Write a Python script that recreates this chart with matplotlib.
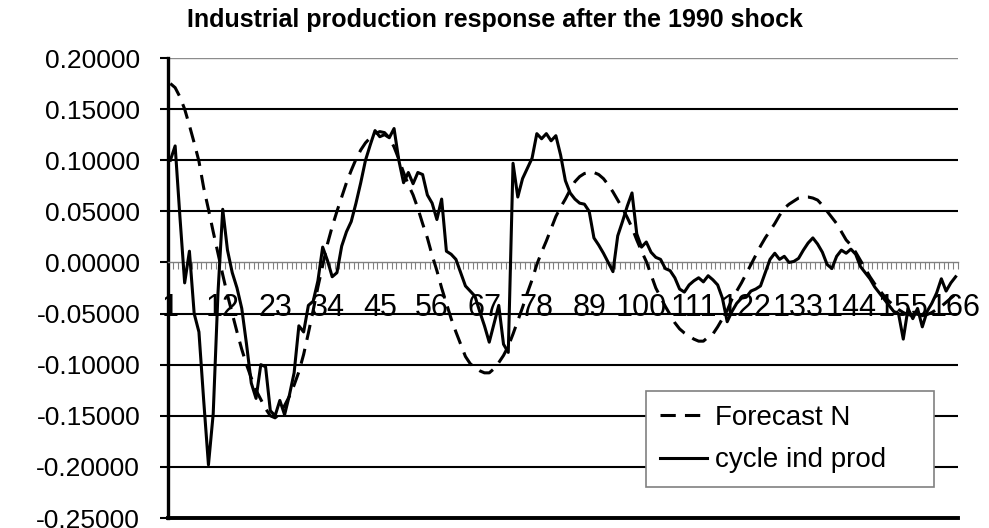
import matplotlib
matplotlib.use('Agg')
import matplotlib.pyplot as plt
import matplotlib.ticker as mticker
import numpy as np

# months after the shock (category axis, Excel style)
period = list(range(1, 167))

forecast_n = [
    0.175, 0.171, 0.162, 0.150, 0.134, 0.117, 0.099, 0.073, 0.052, 0.030,
    0.009, -0.012, -0.032, -0.050, -0.068, -0.085, -0.100, -0.113, -0.125, -0.134,
    -0.143, -0.150, -0.152, -0.148, -0.140, -0.131, -0.120, -0.107, -0.090, -0.069,
    -0.047, -0.024, -0.003, 0.018, 0.035, 0.050, 0.064, 0.078, 0.090, 0.101,
    0.110, 0.117, 0.122, 0.126, 0.128, 0.127, 0.122, 0.113, 0.101, 0.088,
    0.076, 0.066, 0.053, 0.038, 0.024, 0.007, -0.008, -0.025, -0.040, -0.055,
    -0.068, -0.080, -0.092, -0.099, -0.103, -0.106, -0.108, -0.108, -0.104, -0.098,
    -0.091, -0.082, -0.070, -0.057, -0.044, -0.030, -0.017, -0.002, 0.010, 0.021,
    0.033, 0.045, 0.054, 0.062, 0.071, 0.079, 0.084, 0.087, 0.088, 0.088,
    0.086, 0.082, 0.076, 0.069, 0.061, 0.053, 0.044, 0.034, 0.022, 0.011,
    0.001, -0.012, -0.025, -0.034, -0.043, -0.051, -0.059, -0.065, -0.069, -0.072,
    -0.075, -0.077, -0.077, -0.073, -0.070, -0.063, -0.055, -0.047, -0.036, -0.028,
    -0.020, -0.011, -0.002, 0.007, 0.016, 0.024, 0.031, 0.038, 0.046, 0.053,
    0.057, 0.060, 0.063, 0.064, 0.064, 0.063, 0.061, 0.056, 0.050, 0.044,
    0.038, 0.030, 0.022, 0.017, 0.010, 0.002, -0.006, -0.014, -0.021, -0.027,
    -0.033, -0.038, -0.042, -0.046, -0.049, -0.051, -0.052, -0.053, -0.052, -0.051,
    -0.049, -0.046, -0.043, -0.039, -0.035, -0.031,
]

cycle_ind_prod = [
    0.100, 0.114, 0.045, -0.020, 0.011, -0.050, -0.068, -0.135, -0.198, -0.148,
    -0.030, 0.052, 0.012, -0.010, -0.025, -0.045, -0.080, -0.118, -0.133, -0.100,
    -0.102, -0.145, -0.150, -0.135, -0.149, -0.130, -0.108, -0.062, -0.068, -0.042,
    -0.038, -0.018, 0.015, 0.002, -0.014, -0.010, 0.016, 0.030, 0.040, 0.058,
    0.078, 0.100, 0.115, 0.129, 0.123, 0.125, 0.122, 0.131, 0.100, 0.078,
    0.088, 0.077, 0.088, 0.086, 0.066, 0.058, 0.042, 0.062, 0.011, 0.008,
    0.003, -0.010, -0.023, -0.028, -0.033, -0.048, -0.062, -0.078, -0.060, -0.042,
    -0.080, -0.088, 0.097, 0.064, 0.082, 0.092, 0.102, 0.126, 0.121, 0.126,
    0.119, 0.124, 0.105, 0.080, 0.068, 0.062, 0.058, 0.057, 0.050, 0.024,
    0.017, 0.009, 0.000, -0.009, 0.026, 0.040, 0.055, 0.068, 0.028, 0.015,
    0.020, 0.010, 0.005, 0.003, -0.006, -0.008, -0.015, -0.026, -0.029, -0.022,
    -0.018, -0.015, -0.019, -0.013, -0.017, -0.022, -0.035, -0.058, -0.048, -0.040,
    -0.035, -0.034, -0.028, -0.026, -0.023, -0.010, 0.003, 0.009, 0.003, 0.006,
    0.000, 0.001, 0.004, 0.012, 0.019, 0.024, 0.018, 0.010, -0.002, -0.006,
    0.006, 0.012, 0.009, 0.013, 0.008, -0.004, -0.010, -0.016, -0.024, -0.030,
    -0.036, -0.042, -0.048, -0.050, -0.075, -0.045, -0.055, -0.045, -0.063, -0.048,
    -0.040, -0.030, -0.016, -0.028, -0.020, -0.014,
]

xlabel_at = list(range(1, 167, 11))
ytick_vals = [-0.25, -0.20, -0.15, -0.10, -0.05, 0.0, 0.05, 0.10, 0.15, 0.20]
title = 'Industrial production response after the 1990 shock'

plt.rcParams['font.family'] = ['Liberation Sans', 'DejaVu Sans']

fig = plt.figure(figsize=(9.89, 5.28), dpi=100)
ax = fig.add_axes([168 / 989, 10 / 528, 790 / 989, 460 / 528])
ax.set_xlim(0.5, 166.5)
ax.set_ylim(-0.25, 0.20)

# horizontal gridlines (top one lighter, like Excel's plot-area edge)
for v in ytick_vals:
    if abs(v) < 1e-9 or v < -0.24:
        continue
    if v > 0.19:
        ax.axhline(v, color='#8c8c8c', lw=1.0, zorder=1)
    else:
        ax.axhline(v, color='black', lw=1.5, zorder=1)

# thick bottom edge of the plot area
ax.axhline(-0.25, color='black', lw=2.8, clip_on=False, zorder=3)

for s in ['top', 'right']:
    ax.spines[s].set_visible(False)
ax.spines['left'].set_linewidth(2.4)
ax.spines['bottom'].set_position(('data', 0))
ax.spines['bottom'].set_color('#808080')
ax.spines['bottom'].set_linewidth(1.0)

ax.plot(period, forecast_n, color='black', lw=2.2, dashes=(5, 3),
        label='Forecast N', zorder=4)
ax.plot(period, cycle_ind_prod, color='black', lw=2.2,
        label='cycle ind prod', zorder=4)

ax.set_xticks(xlabel_at, labels=[str(v) for v in xlabel_at])
ax.set_xticks(np.arange(0.5, 167, 1), minor=True)
ax.tick_params(axis='x', which='major', length=0, pad=22, labelsize=22)
ax.tick_params(axis='x', which='minor', length=5, width=0.8,
               color='#808080', direction='out')

ax.set_yticks(ytick_vals)
ax.yaxis.set_major_formatter(mticker.FuncFormatter(lambda v, p: f'{v:.5f}'))
ax.tick_params(axis='y', length=6, width=1.5, direction='out',
               labelsize=19, pad=14)

leg = ax.legend(loc='lower left', bbox_to_anchor=(0.605, 0.067, 0.365, 0.211),
                mode='expand', fontsize=20, frameon=True, fancybox=False,
                edgecolor='#808080', framealpha=1, handlelength=1.7,
                handletextpad=0.3, borderaxespad=0, labelspacing=0.6,
                borderpad=0.5)
leg.get_frame().set_linewidth(1.2)
leg.set_zorder(5)

fig.text(0.5, 1 - 20 / 528, title, ha='center', va='center',
         fontsize=18, fontweight='bold')

fig.savefig('out.png', dpi=100)
